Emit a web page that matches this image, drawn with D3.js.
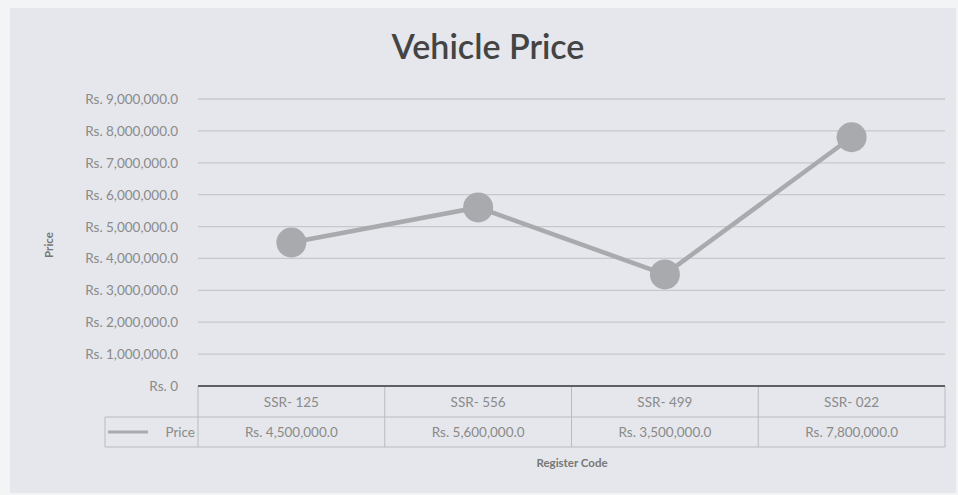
<!DOCTYPE html>
<html>
<head>
<meta charset="utf-8">
<script src="https://d3js.org/d3.v7.min.js"></script>
<style>
  body { margin: 0; background: #f3f4f6; }
  text { font-family: Lato, "Open Sans", sans-serif; }
</style>
</head>
<body>
<script>
// data
var codes = ["SSR- 125", "SSR- 556", "SSR- 499", "SSR- 022"];
var prices = [4500000, 5600000, 3500000, 7800000];
var priceLabels = ["Rs. 4,500,000.0", "Rs. 5,600,000.0", "Rs. 3,500,000.0", "Rs. 7,800,000.0"];
var yTicks = [0, 1000000, 2000000, 3000000, 4000000, 5000000, 6000000, 7000000, 8000000, 9000000];

var width = 958, height = 495;
var plotLeft = 198, plotRight = 945, plotTop = 99, plotBottom = 386;

var svg = d3.select("body").append("svg")
    .attr("width", width).attr("height", height);

// chart background
svg.append("rect").attr("x", 10).attr("y", 8)
    .attr("width", width - 12).attr("height", height - 10)
    .attr("fill", "#e5e7ec");

var x = d3.scaleBand().domain(codes).range([plotLeft, plotRight]);
var y = d3.scaleLinear().domain([0, 9000000]).range([plotBottom, plotTop]);

function rs(v) {
  return v === 0 ? "Rs. 0" : "Rs. " + d3.format(",.1f")(v);
}

svg.append("text").attr("x", 488).attr("y", 59)
    .attr("text-anchor", "middle").attr("font-size", 34)
    .attr("font-weight", 600)
    .attr("fill", "#444").text("Vehicle Price");

// gridlines
svg.append("g").selectAll("line")
  .data(yTicks.filter(d => d > 0))
  .enter().append("line")
    .attr("x1", plotLeft).attr("x2", plotRight)
    .attr("y1", d => y(d)).attr("y2", d => y(d))
    .attr("stroke", "#c6c8cd").attr("stroke-width", 1.3);

// y axis labels
svg.append("g").selectAll("text")
  .data(yTicks)
  .enter().append("text")
    .attr("x", 178).attr("y", d => y(d) + 5)
    .attr("text-anchor", "end").attr("font-size", 13.5)
    .attr("fill", "#8a8a8a")
    .text(rs);

svg.append("text")
    .attr("transform", "translate(53," + 245 + ") rotate(-90)")
    .attr("text-anchor", "middle").attr("font-size", 11.5)
    .attr("font-weight", "bold").attr("fill", "#777").text("Price");

// data table under axis
var row1 = plotBottom, row2 = 417, row3 = 447;
var tbl = svg.append("g").attr("stroke", "#b9bbc0").attr("stroke-width", 1);
tbl.append("line").attr("x1", plotLeft).attr("x2", plotRight).attr("y1", row2).attr("y2", row2);
tbl.append("line").attr("x1", 105).attr("x2", plotRight).attr("y1", row3).attr("y2", row3);
tbl.append("line").attr("x1", 105).attr("x2", plotLeft).attr("y1", row2).attr("y2", row2);
tbl.append("line").attr("x1", 105).attr("x2", 105).attr("y1", row2).attr("y2", row3);
tbl.selectAll(".v")
  .data(codes.concat(["end"]))
  .enter().append("line")
    .attr("x1", (d, i) => i < codes.length ? x(d) : plotRight)
    .attr("x2", (d, i) => i < codes.length ? x(d) : plotRight)
    .attr("y1", row1).attr("y2", row3);

svg.append("g").selectAll("text")
  .data(codes)
  .enter().append("text")
    .attr("x", d => x(d) + x.bandwidth() / 2).attr("y", 407)
    .attr("text-anchor", "middle").attr("font-size", 13.5)
    .attr("fill", "#8a8a8a").text(d => d);

svg.append("g").selectAll("text")
  .data(priceLabels)
  .enter().append("text")
    .attr("x", (d, i) => x(codes[i]) + x.bandwidth() / 2).attr("y", 437)
    .attr("text-anchor", "middle").attr("font-size", 13.5)
    .attr("fill", "#8a8a8a").text(d => d);

// legend key in table
svg.append("line").attr("x1", 108).attr("x2", 148).attr("y1", 432).attr("y2", 432)
    .attr("stroke", "#a9aaad").attr("stroke-width", 3);
svg.append("text").attr("x", 195).attr("y", 437)
    .attr("text-anchor", "end").attr("font-size", 13.5)
    .attr("fill", "#8a8a8a").text("Price");

// x axis line
svg.append("line").attr("x1", plotLeft).attr("x2", plotRight)
    .attr("y1", plotBottom).attr("y2", plotBottom)
    .attr("stroke", "#5e6064").attr("stroke-width", 2);

svg.append("text").attr("x", 572).attr("y", 467)
    .attr("text-anchor", "middle").attr("font-size", 11.5)
    .attr("font-weight", "bold").attr("fill", "#777").text("Register Code");

// series
var line = d3.line()
    .x((d, i) => x(codes[i]) + x.bandwidth() / 2)
    .y(d => y(d));

svg.append("path").datum(prices)
    .attr("d", line).attr("fill", "none")
    .attr("stroke", "#a9aaad").attr("stroke-width", 4.5);

svg.append("g").selectAll("circle")
  .data(prices)
  .enter().append("circle")
    .attr("cx", (d, i) => x(codes[i]) + x.bandwidth() / 2)
    .attr("cy", d => y(d))
    .attr("r", 15)
    .attr("fill", "#a9aaad");
</script>
</body>
</html>
